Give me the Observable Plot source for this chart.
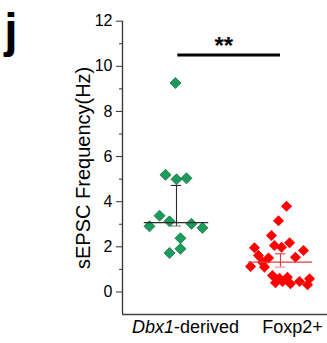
<!DOCTYPE html>
<html>
<head>
<meta charset="utf-8">
<script src="https://cdn.jsdelivr.net/npm/d3@7"></script>
<script src="https://cdn.jsdelivr.net/npm/@observablehq/plot@0.6"></script>
<style>
  html, body { margin: 0; padding: 0; background: white; }
  #chart { position: relative; width: 327px; height: 343px; }
</style>
</head>
<body>
<div id="chart"></div>
<script>
// ---- data ----
const categories = ["Dbx1-derived", "Foxp2+"];
const categoryPos = [1, 2];
const yTicks = [0, 2, 4, 6, 8, 10, 12];
const yMinorTicks = [1, 3, 5, 7, 9, 11];

// Dbx1-derived (green), x = group position + horizontal scatter
const dbx1Values = [9.26, 5.19, 4.99, 5.04, 3.38, 3.13, 2.91, 3.02, 2.84, 2.38, 1.91, 1.73];
const dbx1X      = [0.99, 0.894, 1.0, 1.096, 0.837, 0.933, 0.74, 1.144, 1.25, 1.038, 1.038, 0.933];

// Foxp2+ (red)
const foxValues = [3.80, 3.16, 2.50, 2.06, 1.98, 2.18, 1.96, 1.84, 1.62, 1.54, 1.50, 1.32,
                   1.13, 1.10, 0.73, 0.61, 0.65, 0.41, 0.46, 0.36, 0.46, 0.58, 0.32];
const foxX      = [2.058, 1.981, 1.913, 1.942, 2.01, 2.087, 1.75, 2.221, 1.788, 2.144, 1.885, 1.827,
                   1.712, 1.846, 1.923, 1.99, 2.067, 1.952, 2.019, 2.096, 2.183, 2.279, 2.26];

// summary line (median) and error bar per group
const centerValues = [3.07, 1.32];
const upperValues  = [4.72, 1.69];
const lowerValues  = [2.92, 1.10];

const significance = "**";
const sigY = 10.5;
const yLabel = "sEPSC Frequency(Hz)";
const panelLetter = "j";

// ---- build tables ----
const points = [
  ...dbx1Values.map((v, i) => ({x: dbx1X[i], y: v, g: 0})),
  ...foxValues.map((v, i) => ({x: foxX[i], y: v, g: 1}))
];
const summary = categories.map((c, i) => ({
  x: categoryPos[i], c: centerValues[i], hi: upperValues[i], lo: lowerValues[i], g: i
}));
const lineColors = ["#2b2b2b", "#e23c3c"];
const halfLine = 0.31, halfCap = 0.05;

const xDomain = [0.4808, 2.452];
const yDomain = [-1, 12];
const font = "'Liberation Sans', Arial, sans-serif";

const plot = Plot.plot({
  width: 327,
  height: 343,
  marginLeft: 122,
  marginRight: 0,
  marginTop: 20.7,
  marginBottom: 29,
  style: {fontFamily: font, color: "black", background: "white", overflow: "visible"},
  x: {domain: xDomain, axis: null},
  y: {domain: yDomain, axis: null},
  marks: [
    // axis lines
    Plot.ruleX([xDomain[0]], {y1: yDomain[0], y2: yTicks[yTicks.length - 1], stroke: "#333", strokeWidth: 1.3}),
    Plot.ruleY([yDomain[0]], {stroke: "#444", strokeWidth: 1.5}),
    Plot.axisY({ticks: yTicks, tickSize: 6, tickPadding: 4, fontSize: 16, label: null, stroke: "#333"}),
    Plot.axisY({ticks: yMinorTicks, tickSize: 3, tickFormat: () => "", label: null, stroke: "#333"}),
    // y title
    Plot.text([yLabel], {frameAnchor: "left", rotate: -90, dx: -39, fontSize: 20, fill: "black",
      textAnchor: "middle", lineAnchor: "middle"}),
    // category labels (italic gene name + rest)
    Plot.text(summary, {x: "x", frameAnchor: "bottom", dy: 18, fontSize: 18,
      text: d => d.g === 0 ? categories[0].split("-")[0] : "",
      textAnchor: "end", dx: -2.5, fontStyle: "italic"}),
    Plot.text(summary, {x: "x", frameAnchor: "bottom", dy: 18, fontSize: 18,
      text: d => d.g === 0 ? "-" + categories[0].split("-").slice(1).join("-") : "",
      textAnchor: "start", dx: -2.5}),
    Plot.text(summary, {x: "x", frameAnchor: "bottom", dy: 18, fontSize: 18,
      text: d => d.g === 1 ? categories[1] : "", dx: 12}),
    // points
    Plot.dot(points.filter(d => d.g === 0), {x: "x", y: "y", symbol: "square", rotate: 45, r: 4.4,
      fill: "#1c9c5b", stroke: "#0f6b3c", strokeWidth: 0.7}),
    Plot.dot(points.filter(d => d.g === 1), {x: "x", y: "y", symbol: "square", rotate: 45, r: 4.4,
      fill: "#ff0000", stroke: "none"}),
    // median line, error bars, caps
    Plot.ruleY(summary, {y: "c", x1: d => d.x - halfLine, x2: d => d.x + halfLine,
      stroke: d => lineColors[d.g], strokeWidth: 1.1}),
    Plot.ruleX(summary, {x: "x", y1: "lo", y2: "hi", stroke: d => lineColors[d.g], strokeWidth: 1.1}),
    Plot.ruleY(summary, {y: "hi", x1: d => d.x - halfCap, x2: d => d.x + halfCap,
      stroke: d => lineColors[d.g], strokeWidth: 1.1}),
    Plot.ruleY(summary, {y: "lo", x1: d => d.x - halfCap, x2: d => d.x + halfCap,
      stroke: d => lineColors[d.g], strokeOpacity: 0.6, strokeWidth: 1.1}),
    // significance bracket
    Plot.ruleY([sigY], {x1: categoryPos[0] + 0.0125, x2: categoryPos[1], stroke: "black", strokeWidth: 3}),
    Plot.text([significance], {x: (categoryPos[0] + categoryPos[1]) / 2 - 0.045, y: sigY + 0.37,
      fontSize: 24, fontWeight: "bold", fill: "black"})
  ]
});

// panel letter
d3.select(plot).append("text")
  .attr("x", 11).attr("y", 47)
  .attr("font-size", 48).attr("font-weight", "bold")
  .attr("font-family", font)
  .attr("fill", "black")
  .text(panelLetter);

document.getElementById("chart").appendChild(plot);
</script>
</body>
</html>
